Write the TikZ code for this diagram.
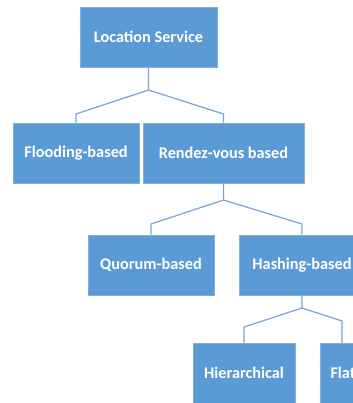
\documentclass[tikz,border=0pt]{standalone}
\usepackage{fontspec}
\setmainfont{Carlito}
\definecolor{boxblue}{RGB}{91,155,213}
\definecolor{edgeblue}{RGB}{130,175,222}
\definecolor{linkblue}{RGB}{120,165,215}
\tikzset{
  box/.style={rectangle, fill=boxblue, draw=edgeblue, line width=0.5pt,
    minimum height=60*0.75pt, inner sep=0pt,
    text=white, font=\bfseries\fontsize{12.2}{14}\selectfont},
  link/.style={draw=linkblue, line width=0.9pt}
}
\begin{document}
\begin{tikzpicture}[x=0.75pt, y=-0.75pt]
\useasboundingbox (0,0) rectangle (353,403);
\clip (0,0) rectangle (353,403);
\fill[white] (0,0) rectangle (353,403);

% tree nodes
\node[box, minimum width=137*0.75pt] (root) at (148.5,37) {Location Service};
\node[box, minimum width=126*0.75pt] (flood) at (76,153) {Flooding-based};
\node[box, minimum width=161*0.75pt] (rdv) at (223.5,153) {Rendez-vous based};
\node[box, minimum width=126*0.75pt] (quorum) at (151,265) {Quorum-based};
\node[box, minimum width=126*0.75pt] (hash) at (302,265) {Hashing-based};
\node[box, minimum width=102*0.75pt] (hier) at (244,373) {Hierarchical};
\node[box, minimum width=46*0.75pt] (flat) at (343,373) {Flat};

% branch points
\coordinate (j1) at (148.5,90);
\coordinate (j2) at (223.5,200);
\coordinate (j3) at (302,308);

% connectors
\draw[link] (root.south) -- (j1) -- (76,114) -- (flood.north);
\draw[link] (j1) -- (223.5,114) -- (rdv.north);
\draw[link] (rdv.south) -- (j2) -- (151,224) -- (quorum.north);
\draw[link] (j2) -- (302,224) -- (hash.north);
\draw[link] (hash.south) -- (j3) -- (244,327) -- (hier.north);
\draw[link] (j3) -- (342,321) -- (342,343);
\end{tikzpicture}
\end{document}
